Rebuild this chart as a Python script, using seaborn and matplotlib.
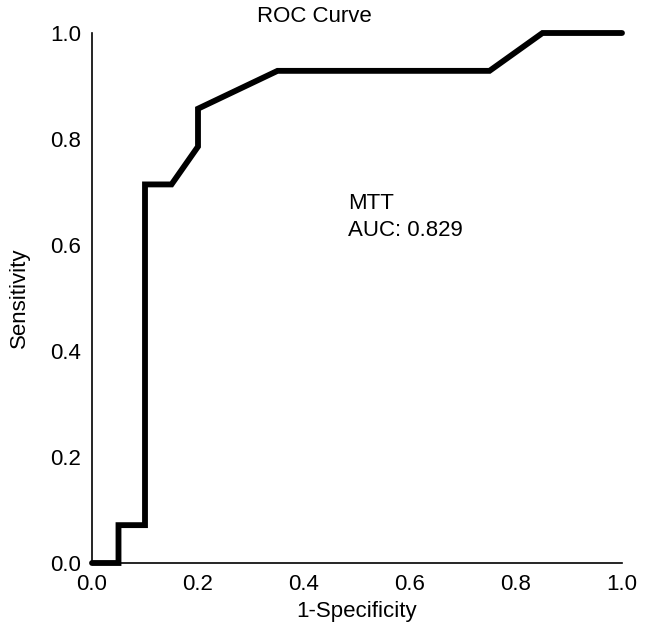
import matplotlib
matplotlib.use("Agg")
import matplotlib.pyplot as plt
import seaborn as sns
import pandas as pd

fpr = [0.0, 0.05, 0.05, 0.10, 0.10, 0.15, 0.20, 0.20, 0.35, 0.75, 0.85, 1.0]
tpr = [0.0, 0.0, 1/14, 1/14, 10/14, 10/14, 11/14, 12/14, 13/14, 13/14, 1.0, 1.0]
xticks = [0.0, 0.2, 0.4, 0.6, 0.8, 1.0]
yticks = [0.0, 0.2, 0.4, 0.6, 0.8, 1.0]
marker_name = "MTT"
auc_value = 0.829

sns.set_style("white")
plt.rcParams['font.family'] = ['Liberation Sans', 'DejaVu Sans']
plt.rcParams['text.color'] = 'black'
plt.rcParams['axes.labelcolor'] = 'black'

FS = 16

fig = plt.figure(figsize=(6.46, 6.32), dpi=100)
ax = fig.add_axes([92/646, 1-563/632, 530/646, 530/632])

df = pd.DataFrame({"fpr": fpr, "tpr": tpr})
sns.lineplot(data=df, x="fpr", y="tpr", sort=False, estimator=None,
             color="black", linewidth=4.2, ax=ax, clip_on=False,
             solid_joinstyle="miter")

ax.set_xlim(0, 1)
ax.set_ylim(0, 1)
ax.set_xticks(xticks)
ax.set_yticks(yticks)
ax.set_xticklabels([f"{t:.1f}" for t in xticks])
ax.set_yticklabels([f"{t:.1f}" for t in yticks])
ax.tick_params(axis="both", length=0, labelsize=FS, pad=8, colors="black")
for s in ["top", "right"]:
    ax.spines[s].set_visible(False)
for s in ["left", "bottom"]:
    ax.spines[s].set_color("black")
    ax.spines[s].set_linewidth(1.2)

ax.set_xlabel("1-Specificity", fontsize=FS, labelpad=4, color="black")
ax.set_ylabel("Sensitivity", fontsize=FS, labelpad=14, color="black")
fig.text(314/646, 1-16/632, "ROC Curve", ha="center", va="center",
         fontsize=FS, color="black")

ax.text(0.483, 0.679, marker_name, fontsize=FS, va="center", ha="left", color="black")
ax.text(0.483, 0.628, f"AUC: {auc_value:.3f}", fontsize=FS, va="center", ha="left",
        color="black")

fig.savefig("out.png", dpi=100, facecolor="white")
